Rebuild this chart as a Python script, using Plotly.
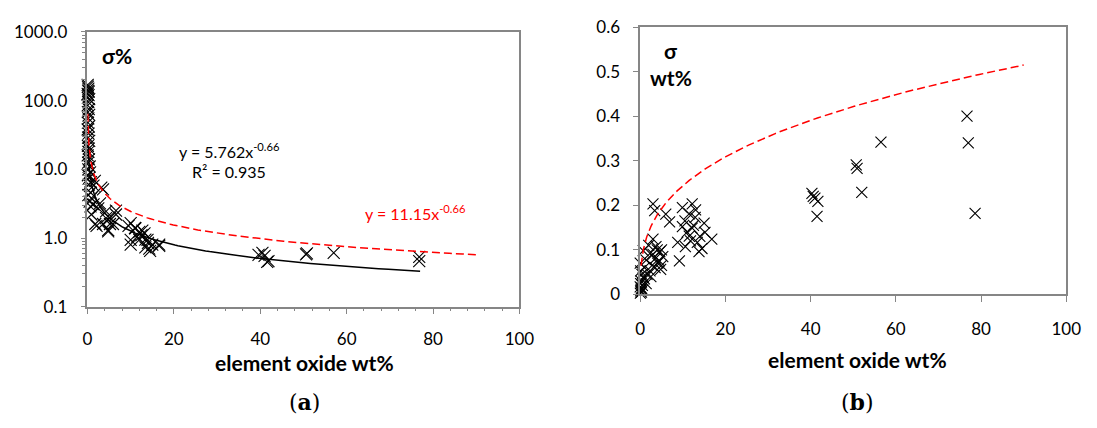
import numpy as np
import plotly.graph_objects as go

W, H = 1097, 428

# ---- data: panel (a) sigma% vs element oxide wt% ----
a_x = [0.05, 0.1, 0.2, 0.15, 0.3, 0.05, 0.25, 0.1, 0.4, 0.2, 0.05, 0.3, 0.1, 0.4, 0.2, 0.1, 0.3,
       0.05, 0.25, 0.15, 0.4, 0.1, 0.3, 0.2, 0.05, 0.35, 0.15, 0.5, 0.2, 0.6, 0.1, 0.4, 0.8, 0.3,
       1.7, 1.4, 3.6, 3.2, 0.7, 0.2, 0.9, 0.5, 1.4, 0.7, 2.9, 2.5, 4.3, 0.9, 5.2, 6.6, 6.6, 1.8,
       3.6, 2.1, 5.9, 4.3, 5.2, 4.8, 4.8, 10.0, 11.1, 11.0, 12.0, 12.7, 13.2, 10.0, 12.0, 13.9,
       13.4, 15.0, 16.6, 16.6, 13.4, 10.0, 14.3, 14.5, 12.5, 11.5, 14.0, 9.5,
       39.6, 40.5, 41.0, 41.9, 41.6, 50.6, 50.8, 57.0, 76.8, 76.8]
a_y = [170, 160, 150, 140, 135, 125, 120, 110, 105, 95, 85, 75, 68, 62, 55, 48, 42,
       38, 33, 29, 26, 22, 20, 18, 16, 14, 12.5, 11, 10, 9, 8.2, 7.5, 6.5, 6,
       6.8, 5.8, 5.1, 5.4, 4.6, 4.2, 3.8, 3.4, 3.1, 2.9, 3.2, 2.7, 2.45, 2.2, 1.95, 2.5, 2.2, 1.6,
       1.6, 1.5, 1.6, 1.95, 1.6, 1.3, 1.25, 1.65, 1.38, 1.4, 1.23, 1.28, 1.17, 0.94, 0.94, 0.94,
       0.95, 0.8, 0.77, 0.8, 0.73, 0.8, 0.7, 0.65, 1.1, 1.05, 0.85, 1.5,
       0.57, 0.61, 0.55, 0.46, 0.45, 0.58, 0.6, 0.61, 0.53, 0.46]

# ---- data: panel (b) sigma (wt%) vs element oxide wt% ----
b_x = [0.05, 0.1, 0.2, 0.0, 0.3, 0.1, 0.5, 1.4, 0.7, 0.2, 0.1, 0.4, 0.0, 1.0, 2.3, 1.6, 0.7,
       1.4, 2.3, 3.0, 3.7, 4.6, 5.3, 4.1, 4.8, 2.8, 3.5, 4.0, 5.0, 2.0, 3.0, 1.0, 0.6, 0.3, 2.5,
       3.5, 4.5, 5.0,
       3.0, 3.4, 6.0, 6.9, 9.2, 9.9, 12.2, 11.5, 12.9, 9.9, 12.2, 11.5, 8.8, 13.4, 15.2, 16.8,
       14.5, 13.8, 10.6, 15.0, 11.0, 12.5, 13.0, 11.8, 14.0, 10.5,
       40.3, 41.0, 41.7, 41.5, 40.6, 50.7, 50.9, 52.0, 56.5, 76.7, 77.0, 78.6]
b_y = [0.003, 0.008, 0.011, 0.017, 0.014, 0.024, 0.020, 0.024, 0.038, 0.030, 0.053, 0.045,
       0.070, 0.060, 0.053, 0.045, 0.098, 0.077, 0.092, 0.124, 0.107, 0.096, 0.085, 0.070,
       0.056, 0.065, 0.080, 0.100, 0.100, 0.110, 0.090, 0.035, 0.010, 0.005, 0.040, 0.060,
       0.075, 0.065,
       0.203, 0.188, 0.180, 0.163, 0.075, 0.195, 0.203, 0.181, 0.173, 0.152, 0.149, 0.131,
       0.117, 0.117, 0.139, 0.124, 0.103, 0.096, 0.107, 0.160, 0.140, 0.155, 0.190, 0.120,
       0.130, 0.165,
       0.227, 0.216, 0.209, 0.175, 0.220, 0.291, 0.283, 0.229, 0.342, 0.400, 0.340, 0.182]

# ---- fitted power laws shown on the chart ----
fit_black = (5.762, -0.66)     # y = 5.762 x^-0.66
fit_red = (11.15, -0.66)       # y = 11.15 x^-0.66
a_log_ticks = [0.1, 1, 10, 100, 1000]
a_log_text = ["0.1", "1.0", "10.0", "100.0", "1000.0"]

xb = np.logspace(np.log10(0.1), np.log10(77), 200)
xr = np.logspace(np.log10(0.07), np.log10(90), 200)
xr2 = np.logspace(np.log10(0.2), np.log10(90), 200)

FONT = "Lato"
fig = go.Figure()
mk = lambda s: dict(symbol="x-thin", size=s, line=dict(color="black", width=1.1), color="black")

fig.add_trace(go.Scatter(x=a_x, y=a_y, mode="markers", marker=mk(12), cliponaxis=False,
                         xaxis="x", yaxis="y", showlegend=False))
fig.add_trace(go.Scatter(x=xb, y=fit_black[0] * xb ** fit_black[1], mode="lines",
                         line=dict(color="black", width=1.5), xaxis="x", yaxis="y", showlegend=False))
fig.add_trace(go.Scatter(x=xr, y=fit_red[0] * xr ** fit_red[1], mode="lines",
                         line=dict(color="#ff0000", width=1.5, dash="8px,4px"),
                         xaxis="x", yaxis="y", showlegend=False))

fig.add_trace(go.Scatter(x=b_x, y=b_y, mode="markers", marker=mk(11), cliponaxis=False,
                         xaxis="x2", yaxis="y2", showlegend=False))
fig.add_trace(go.Scatter(x=xr2, y=fit_red[0] / 100 * xr2 ** (1 + fit_red[1]), mode="lines",
                         line=dict(color="#ff0000", width=1.5, dash="8px,4px"),
                         xaxis="x2", yaxis="y2", showlegend=False))

ax_col = "#868686"
common = dict(showgrid=False, zeroline=False, showline=True, linecolor=ax_col, linewidth=1.5,
              mirror=True, ticks="outside", tickcolor=ax_col, tickwidth=1.3,
              tickfont=dict(family=FONT, size=17, color="black"))

fig.update_layout(
    width=W, height=H, margin=dict(l=0, r=0, t=0, b=0),
    paper_bgcolor="white", plot_bgcolor="white",
    xaxis=dict(domain=[84 / W, 524 / W], range=[0, 100], dtick=20, ticklen=6,
               ticklabelstandoff=10, anchor="y",
               minor=dict(dtick=4, ticks="outside", ticklen=3, tickcolor=ax_col), **common),
    yaxis=dict(domain=[1 - 311 / H, 1 - 22 / H], type="log", range=[-1, 3],
               tickvals=a_log_ticks, ticktext=a_log_text, ticklen=5, ticklabelstandoff=10,
               anchor="x",
               minor=dict(ticks="outside", ticklen=4, tickcolor=ax_col,
                          tickvals=[m * 10 ** e for e in range(-1, 3) for m in range(2, 10)]),
               **common),
    xaxis2=dict(domain=[647 / W, 1081 / W], range=[0, 100], dtick=20, ticklen=6,
                ticklabelstandoff=12, anchor="y2", **common),
    yaxis2=dict(domain=[1 - 298 / H, 1 - 17 / H], range=[0, 0.6], dtick=0.1, ticklen=5,
                ticklabelstandoff=10, anchor="x2", **common),
)

def ann(px, py, text, size, color="black", family=FONT):
    fig.add_annotation(x=px / W, y=1 - py / H, xref="paper", yref="paper", text=text,
                       showarrow=False, xanchor="center", yanchor="middle",
                       font=dict(family=family, size=size, color=color))

ann(114, 47, "<b>σ%</b>", 21)
ann(228, 147, "y = 5.762x<sup>-0.66</sup>", 16)
ann(228, 169, "R² = 0.935", 16)
ann(418, 212, "y = 11.15x<sup>-0.66</sup>", 16, "#ff0000")
ann(678, 42, "<b>σ</b>", 21)
ann(678, 70, "<b>wt%</b>", 21)
ann(305, 370, "<b>element oxide wt%</b>", 21)
ann(868, 367, "<b>element oxide wt%</b>", 21)
ann(305, 411, "(<b>a</b>)", 22, family="DejaVu Serif")
ann(868, 411, "(<b>b</b>)", 22, family="DejaVu Serif")

fig.write_html("out.html")
